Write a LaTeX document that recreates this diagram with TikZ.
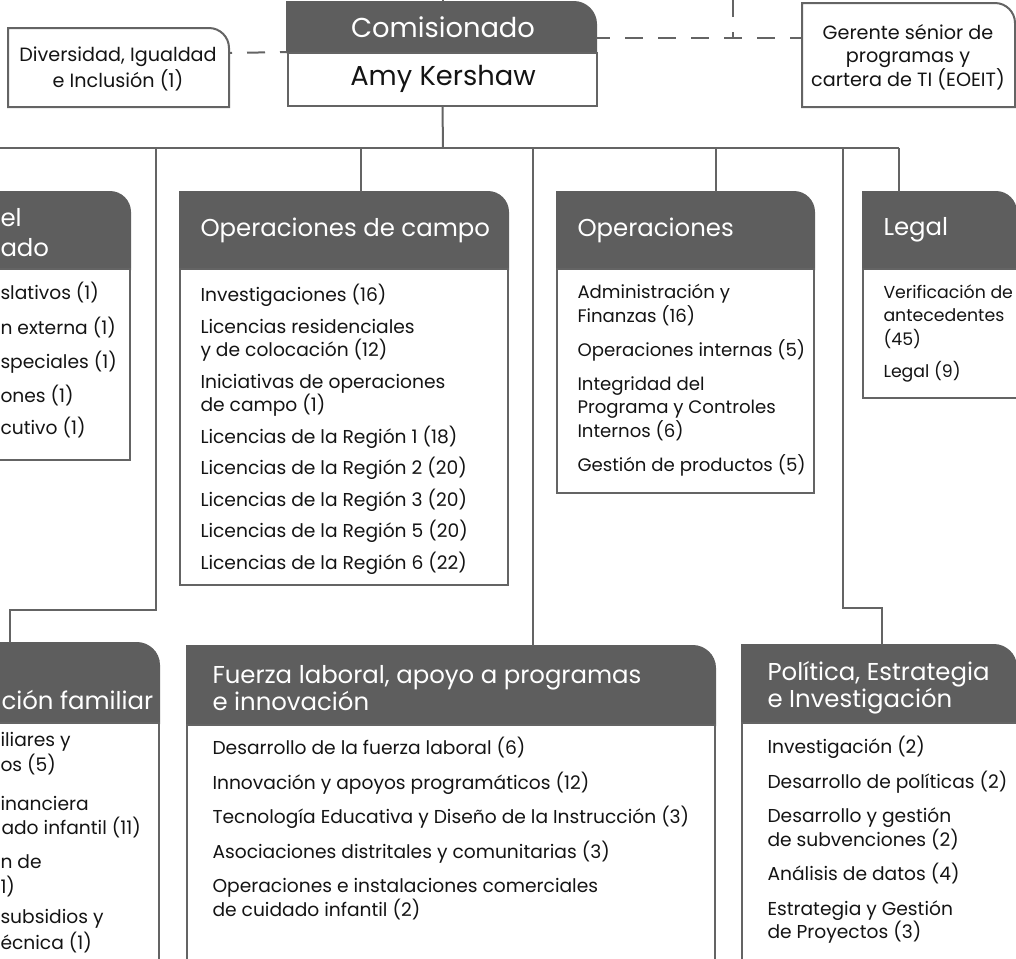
\documentclass[tikz,border=0pt]{standalone}
\usepackage{fontspec}
\setmainfont{Poppins}
\definecolor{tabgray}{RGB}{94,94,94}
\definecolor{linegray}{RGB}{100,100,100}
\definecolor{inkgray}{RGB}{20,20,20}

\tikzset{every picture/.style={line width=0.75pt}}
\tikzset{
  wire/.style={draw=linegray, line width=1.5pt},
  dashwire/.style={draw=linegray, line width=1.5pt, dash pattern=on 13.5pt off 11.25pt},
  tabfill/.style={fill=tabgray, draw=tabgray, line width=1.5pt},
  listbox/.style={draw=linegray, fill=white, line width=1.5pt},
  tabtext/.style={text=white, font=\fontsize{18.3}{20.25}\selectfont, inner sep=0pt, anchor=west, align=left},
  listtext/.style={text=inkgray, font=\fontsize{14}{17.6}\selectfont, inner sep=0pt, anchor=north west, align=left},
  cuttext/.style={text=inkgray, font=\fontsize{14}{17.6}\selectfont, inner sep=0pt, anchor=west},
  cuttab/.style={text=white, font=\fontsize{18.3}{20.25}\selectfont, inner sep=0pt, anchor=west},
  notetext/.style={text=inkgray, font=\fontsize{14.4}{17.6}\selectfont, inner sep=0pt, align=center}
}

\begin{document}
\begin{tikzpicture}[x=0.75pt,y=0.75pt,yscale=-1,xscale=1]
\useasboundingbox (0,0) rectangle (1016,958);

%Shape: Box [Comisionado]
\fill [tabfill] (287,52) -- (287,2) -- (574,2) .. controls (586,2) and (596,12) .. (596,24) -- (596,52) -- cycle ;
\node [listbox, minimum width=231.75pt, minimum height=39.75pt, inner sep=0pt, anchor=north west] (amy) at (287,52) {};

%Shape: Box [Diversidad]
\draw [listbox] (8,107) -- (8,28) -- (209,28) .. controls (220,28) and (229,37) .. (229,48) -- (229,107) -- cycle ;
%Shape: Box [Gerente]
\draw [listbox] (802,107) -- (802,3) -- (995,3) .. controls (1006,3) and (1015,12) .. (1015,23) -- (1015,107) -- cycle ;

%Shape: Box [Oficina, cut]
\fill [tabfill] (-30,269) -- (-30,192) -- (110,192) .. controls (121,192) and (130,201) .. (130,212) -- (130,269) -- cycle ;
\draw [listbox] (-30,269) rectangle (130,460) ;
%Shape: Box [Operaciones de campo]
\fill [tabfill] (180,269) -- (180,192) -- (488,192) .. controls (499,192) and (508,201) .. (508,212) -- (508,269) -- cycle ;
\draw [listbox] (180,269) rectangle (508,585) ;
%Shape: Box [Operaciones]
\fill [tabfill] (557,269) -- (557,192) -- (794,192) .. controls (805,192) and (814,201) .. (814,212) -- (814,269) -- cycle ;
\draw [listbox] (557,269) rectangle (814,493) ;
%Shape: Box [Legal]
\fill [tabfill] (863,269) -- (863,192) -- (996,192) .. controls (1007,192) and (1016,201) .. (1016,212) -- (1016,269) -- cycle ;
\draw [listbox] (863,269) rectangle (1018,398) ;

%Shape: Box [familiar, cut]
\fill [tabfill] (-30,723) -- (-30,643) -- (137,643) .. controls (148,643) and (159,652) .. (159,665) -- (159,723) -- cycle ;
\draw [listbox] (-30,723) rectangle (159,980) ;
%Shape: Box [Fuerza laboral]
\fill [tabfill] (187,725) -- (187,646) -- (693,646) .. controls (704,646) and (715,655) .. (715,668) -- (715,725) -- cycle ;
\draw [listbox] (187,725) rectangle (715,980) ;
%Shape: Box [Politica]
\fill [tabfill] (742,723) -- (742,645) -- (994,645) .. controls (1005,645) and (1016,654) .. (1016,667) -- (1016,723) -- cycle ;
\draw [listbox] (742,723) rectangle (1018,980) ;

% Coordinates of the lines
\coordinate (commUp) at (443,-6) ;
\coordinate (commTop) at (443,2) ;
\coordinate (hub) at (443,148) ;
\coordinate (busW) at (-6,148) ;
\coordinate (busE) at (899,148) ;
\coordinate (dropA) at (156,148) ;
\coordinate (dropB) at (361,148) ;
\coordinate (dropC) at (533,148) ;
\coordinate (dropD) at (716,148) ;
\coordinate (dropE) at (843,148) ;
\coordinate (familyBend) at (156,610) ;
\coordinate (familyTop) at (10,643) ;
\coordinate (campoTop) at (361,192) ;
\coordinate (fuerzaTop) at (533,646) ;
\coordinate (opsTop) at (716,192) ;
\coordinate (politicaBend) at (843,608) ;
\coordinate (politicaTop) at (882,645) ;
\coordinate (legalTop) at (899,192) ;
\coordinate (diverRight) at (229,53) ;
\coordinate (commRight) at (596,38) ;
\coordinate (gerenteLeft) at (802,38) ;
\coordinate (dashJoin) at (733,38) ;
\coordinate (dashUp) at (733,-6) ;

%Straight Lines
\draw [wire] (commTop) -- (commUp) ;
\draw [wire] (amy.south) -- (hub) ;
\draw [wire] (busW) -- (busE) ;
\draw [wire] (dropA) -- (familyBend) -| (familyTop) ;
\draw [wire] (dropB) -- (campoTop) ;
\draw [wire] (dropC) -- (fuerzaTop) ;
\draw [wire] (dropD) -- (opsTop) ;
\draw [wire] (dropE) -- (politicaBend) -| (politicaTop) ;
\draw [wire] (busE) -- (legalTop) ;
%Dashed Lines
\draw [dashwire, dash phase=8.25pt] (amy.north west) -- (diverRight) ;
\draw [dashwire, dash phase=3pt] (commRight) -- (gerenteLeft) ;
\draw [dashwire, dash phase=9pt] (dashJoin) -- (dashUp) ;

% Text Node
\node [text=white, font=\fontsize{20.5}{22}\selectfont, inner sep=0pt] (comm) at (443,27) {Comisionado};
\node [text=inkgray, font=\fontsize{20.5}{22}\selectfont, inner sep=0pt] (amyName) at (443,79) {Amy Kershaw};
\node [notetext] (diversidad) at (118,69) {Diversidad, Igualdad\\[1.2pt]e Inclusión (1)};
\node [notetext] (gerente) at (908,57) {Gerente sénior de\\programas y\\cartera de TI (EOEIT)};

% Text Node
\node [cuttab] (oficinaA) at (0,218) {el};
\node [cuttab] (oficinaB) at (0,248) {ado};
\node [cuttext] (oficinaC) at (0,293) {slativos (1)};
\node [cuttext] (oficinaD) at (0,328) {n externa (1)};
\node [cuttext] (oficinaE) at (0,362) {speciales (1)};
\node [cuttext] (oficinaF) at (0,396) {ones (1)};
\node [cuttext] (oficinaG) at (0,428) {cutivo (1)};

% Text Node
\node [tabtext] (campo) at (200,230) {Operaciones de campo};
\node [listtext] (campoList) at (200,284) {Investigaciones (16)\\[6pt]
Licencias residenciales\\y de colocación (12)\\[6pt]
Iniciativas de operaciones\\de campo (1)\\[6pt]
Licencias de la Región 1 (18)\\[6pt]
Licencias de la Región 2 (20)\\[6pt]
Licencias de la Región 3 (20)\\[6pt]
Licencias de la Región 5 (20)\\[6pt]
Licencias de la Región 6 (22)};

% Text Node
\node [tabtext] (ops) at (577,230) {Operaciones};
\node [listtext, font=\fontsize{13.6}{17.6}\selectfont] (opsList) at (577,284) {Administración y\\Finanzas (16)\\[7.9pt]
Operaciones internas (5)\\[7.9pt]
Integridad del\\Programa y Controles\\Internos (6)\\[7.9pt]
Gestión de productos (5)};

% Text Node
\node [tabtext] (legal) at (883,230) {Legal};
\node [listtext, font=\fontsize{13}{17.6}\selectfont] (legalList) at (883,284) {Verificación de\\antecedentes\\(45)\\[7pt]
Legal (9)};

% Text Node
\node [cuttab] (familiar) at (1,700) {ción familiar};
\node [cuttext] (familiarA) at (0,742) {iliares y};
\node [cuttext] (familiarB) at (0,765) {os (5)};
\node [cuttext] (familiarC) at (0,803) {inanciera};
\node [cuttext] (familiarD) at (1,827) {ado infantil (11)};
\node [cuttext] (familiarE) at (0,862) {n de};
\node [cuttext] (familiarF) at (0,886) {1)};
\node [cuttext] (familiarG) at (0,919) {subsidios y};
\node [cuttext] (familiarH) at (0,942) {écnica (1)};

% Text Node
\node [tabtext] (fuerza) at (212,688) {Fuerza laboral, apoyo a programas\\e innovación};
\node [listtext] (fuerzaList) at (212,737) {Desarrollo de la fuerza laboral (6)\\[8.25pt]
Innovación y apoyos programáticos (12)\\[8.25pt]
Tecnología Educativa y Diseño de la Instrucción (3)\\[8.25pt]
Asociaciones distritales y comunitarias (3)\\[8.25pt]
Operaciones e instalaciones comerciales\\de cuidado infantil (2)};

% Text Node
\node [tabtext] (politica) at (767,688) {Política, Estrategia\\e Investigación};
\node [listtext] (politicaList) at (767,736) {Investigación (2)\\[8.25pt]
Desarrollo de políticas (2)\\[8.25pt]
Desarrollo y gestión\\de subvenciones (2)\\[8.25pt]
Análisis de datos (4)\\[8.25pt]
Estrategia y Gestión\\de Proyectos (3)};

\end{tikzpicture}
\end{document}
